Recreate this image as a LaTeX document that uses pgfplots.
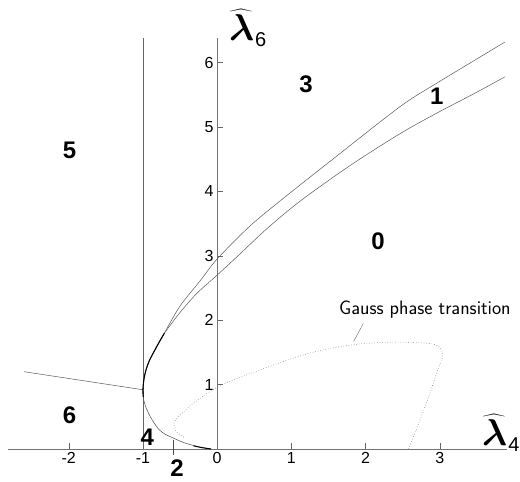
\documentclass[border=0pt]{standalone}
\usepackage{fontspec}
\setmainfont{Liberation Sans}
\usepackage{bm}
\usepackage{pgfplots}
\pgfplotsset{compat=1.18}

\begin{document}
\begin{tikzpicture}
\begin{axis}[
  x=74.2pt, y=64.4pt,
  xmin=-2.82, xmax=3.9, ymin=0, ymax=6.38,
  axis lines=middle,
  axis line style={-, black!55, line width=0.5pt},
  xtick={-2,...,3}, ytick={1,...,6},
  hide obscured x ticks=false,
  tick style={black!60, line width=0.4pt},
  major tick length=6pt,
  tick align=inside,
  tick label style={font=\fontsize{16}{16}\selectfont},
  /pgf/number format/assume math mode=true,
  clip=false,
]
% fixed frame of the page
\coordinate (bbA) at (axis cs:-2.926,-0.512);
\coordinate (bbB) at (axis cs:4.082,6.972);

% vertical boundary at lambda4 = -1
\addplot[black!60, line width=0.5pt] coordinates {(-1,0) (-1,6.38)};

% straight boundary from the left
\addplot[black!65, line width=0.5pt] coordinates {(-2.60,1.20) (-1.0,0.92)};

% lower branch through the turning point
\addplot[black!70, line width=0.5pt, smooth] coordinates {
  (-0.08,0.0) (-0.27,0.04) (-0.45,0.10) (-0.59,0.17) (-0.70,0.23)
  (-0.79,0.31) (-0.90,0.50) (-0.97,0.68) (-0.995,0.81) (-1.0,0.92)
  (-0.99,1.05) (-0.965,1.20) (-0.91,1.38) (-0.79,1.64) (-0.71,1.80)};
\addplot[black, line width=1.1pt, smooth] coordinates {
  (-0.995,0.81) (-1.0,0.92) (-0.99,1.05) (-0.965,1.20) (-0.91,1.38)
  (-0.79,1.64) (-0.71,1.80)};
\addplot[black, line width=1.0pt, smooth] coordinates {
  (-0.08,0.0) (-0.20,0.02) (-0.32,0.05)};

% upper boundary
\addplot[black!65, line width=0.5pt, smooth] coordinates {
  (-0.71,1.80) (-0.5,2.22) (-0.23,2.61) (0,2.95) (0.44,3.46)
  (0.89,3.89) (1.57,4.51) (2.47,5.32) (2.96,5.68) (3.88,6.32)};
% lower boundary
\addplot[black!65, line width=0.5pt, smooth] coordinates {
  (-0.71,1.80) (-0.5,2.12) (-0.27,2.42) (0,2.70) (0.3,3.02)
  (0.67,3.42) (1.12,3.85) (1.79,4.40) (2.47,4.90) (3.0,5.24)
  (3.45,5.51) (3.88,5.78)};

% Gauss phase transition
\addplot[black!50, dotted, line width=0.6pt, smooth] coordinates {
  (2.58,0.0) (2.82,0.71) (2.98,1.25) (3.04,1.45) (3.0,1.58) (2.85,1.64)
  (2.37,1.66) (1.84,1.62) (1.25,1.49) (0.58,1.23) (0.02,0.97)
  (-0.32,0.71) (-0.52,0.50) (-0.58,0.40) (-0.55,0.27) (-0.43,0.17)};
\addplot[black!60, line width=0.4pt] coordinates {(1.84,1.67) (1.97,1.95)};
\node[font=\sffamily\fontsize{19.5}{19.5}\selectfont] at (axis cs:2.80,2.17) {Gauss phase transition};

% pointer to region 2
\addplot[black!70, line width=0.5pt] coordinates {(-0.59,0.14) (-0.59,-0.09)};

% region numbers
\begin{scope}[every node/.style={font=\bfseries\fontsize{24}{24}\selectfont}]
\node at (axis cs:-1.99,4.64) {5};
\node at (axis cs:1.20,5.67) {3};
\node at (axis cs:2.96,5.47) {1};
\node at (axis cs:2.17,3.22) {0};
\node at (axis cs:-1.99,0.53) {6};
\node at (axis cs:-0.94,0.19) {4};
\node at (axis cs:-0.54,-0.30) {2};
\end{scope}

% axis names
\node[anchor=base west, inner sep=0pt] at (axis cs:0.16,6.35)
  {\fontsize{24}{24}\selectfont\scalebox{1.5}{$\widehat{\bm\lambda}$}\kern1pt\raisebox{-6pt}{\fontsize{20}{20}\selectfont 6}};
\node[anchor=base west, inner sep=0pt] at (axis cs:3.57,0.06)
  {\fontsize{24}{24}\selectfont\scalebox{1.5}{$\widehat{\bm\lambda}$}\kern1pt\raisebox{-6pt}{\fontsize{20}{20}\selectfont 4}};
\end{axis}
\pgfresetboundingbox
\path[use as bounding box] (bbA) rectangle (bbB);
\end{tikzpicture}
\end{document}
